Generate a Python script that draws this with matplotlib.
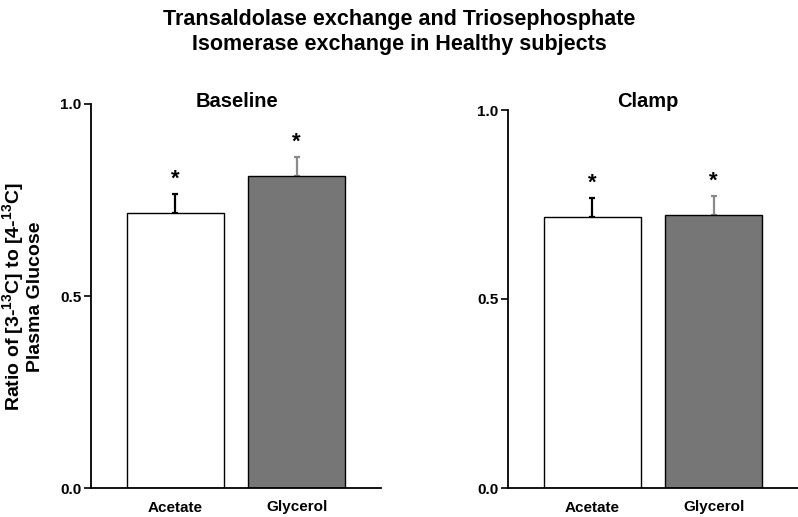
import matplotlib
matplotlib.use('Agg')
import matplotlib.pyplot as plt

plt.rcParams['font.family'] = ['Liberation Sans', 'DejaVu Sans']
plt.rcParams['font.weight'] = 'bold'
plt.rcParams['mathtext.fontset'] = 'custom'
plt.rcParams['mathtext.rm'] = 'Liberation Sans:bold'
plt.rcParams['mathtext.bf'] = 'Liberation Sans:bold'
plt.rcParams['mathtext.it'] = 'Liberation Sans:bold'
plt.rcParams['mathtext.default'] = 'rm'

# Data
groups = ['Acetate', 'Glycerol']
panels = ['Baseline', 'Clamp']
means = {'Baseline': [0.716, 0.813], 'Clamp': [0.717, 0.722]}
errs = {'Baseline': [0.050, 0.050], 'Clamp': [0.050, 0.050]}
yticks = [0.0, 0.5, 1.0]

fills = ['white', '#767676']
err_colors = ['black', '#8a8a8a']

fig = plt.figure(figsize=(7.98, 5.17), dpi=100)

axes_rects = [[91 / 798, 29 / 517, 290 / 798, 384 / 517],
              [508 / 798, 29 / 517, 290 / 798, 378 / 517]]
title_x = [237 / 798, 648 / 798]

for name, rect, tx in zip(panels, axes_rects, title_x):
    ax = fig.add_axes(rect)
    x = list(range(len(groups)))
    ax.bar(x, means[name], width=0.80, color=fills, edgecolor='black', linewidth=1.0, zorder=2)
    for i in x:
        ax.errorbar(i, means[name][i], yerr=[[0], [errs[name][i]]], fmt='none',
                    ecolor=err_colors[i], elinewidth=1.6, capsize=2.5, capthick=1.6, zorder=1)
        ax.annotate('*', (i, means[name][i] + errs[name][i]), xytext=(0, 3),
                    textcoords='offset points', ha='center', va='bottom',
                    fontsize=16, fontweight='bold')
    ax.set_xlim(-0.696, 1.696)
    ax.set_ylim(0, 1.0)
    ax.set_yticks(yticks)
    ax.set_yticklabels([f'{t:.1f}' for t in yticks], fontsize=11, fontweight='bold')
    ax.set_xticks(x)
    ax.set_xticklabels(groups, fontsize=11, fontweight='bold')
    ax.tick_params(axis='x', length=0, pad=9)
    ax.tick_params(axis='y', direction='out', length=5, width=1.2, pad=2)
    for s in ['top', 'right']:
        ax.spines[s].set_visible(False)
    for s in ['left', 'bottom']:
        ax.spines[s].set_linewidth(1.3)
    fig.text(tx, 1 - 107 / 517, name, ha='center', va='baseline', fontsize=14.5, fontweight='bold')

fig.text(0.5, 1 - 32 / 517, 'Transaldolase exchange and Triosephosphate\nIsomerase exchange in Healthy subjects',
         ha='center', va='center', fontsize=15.5, fontweight='bold', linespacing=1.25)

fig.text(22 / 798, 1 - 297 / 517, 'Ratio of [3-$^{13}$C] to [4-$^{13}$C]\nPlasma Glucose',
         rotation=90, ha='center', va='center', fontsize=14, fontweight='bold', linespacing=1.1)

plt.savefig('out.png', dpi=100)
plt.close()
